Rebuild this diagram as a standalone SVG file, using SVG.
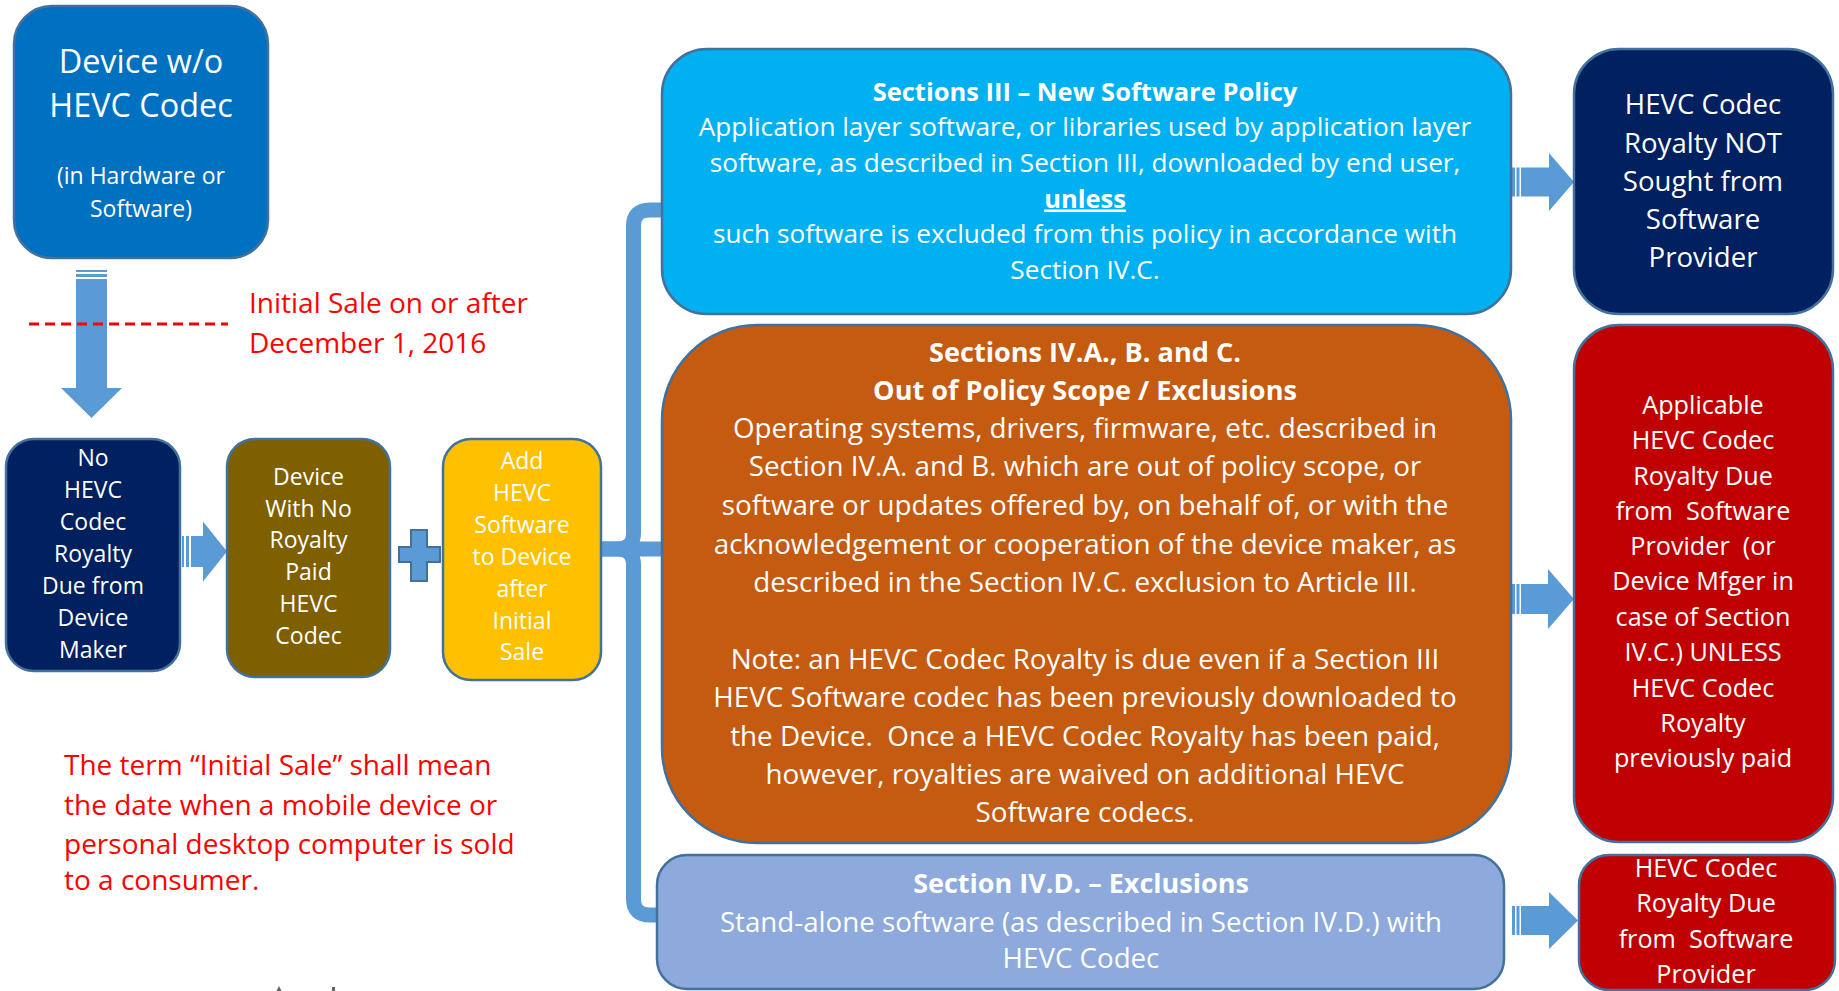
<svg xmlns="http://www.w3.org/2000/svg" width="1839" height="991" viewBox="0 0 1839 991">
<style>
  .box{stroke:#41719C;stroke-width:2.5}
  .arr{fill:#5B9BD5;stroke:none}
  .w{fill:#FFFFFF;font-family:"Open Sans","Liberation Sans",sans-serif;text-anchor:middle}
  .b{font-weight:bold}
  .pre{white-space:pre}
  .red{fill:#FF0000;font-family:"Open Sans","Liberation Sans",sans-serif;font-size:28px}
  .br{fill:none;stroke:#5B9BD5;stroke-width:15;stroke-linejoin:round}
</style>
<rect width="1839" height="991" fill="#FFFFFF"/>

<g id="connectors">
  <!-- down arrow -->
  <rect class="arr" x="76" y="270" width="31" height="2"/>
  <rect class="arr" x="76" y="274" width="31" height="3"/>
  <path class="arr" d="M76 279 H107 V388 H122 L91.5 418 L61 388 H76 Z"/>
  <!-- arrow A -> B -->
  <rect class="arr" x="182" y="536" width="2" height="31"/>
  <rect class="arr" x="186" y="536" width="3" height="31"/>
  <path class="arr" d="M191 536 H203 V521.5 L227 551.5 L203 581.5 V567 H191 Z"/>
  <!-- plus -->
  <path d="M411 530 H427 V547 H440 V562 H427 V581 H411 V562 H399 V547 H411 Z" fill="#5B9BD5" stroke="#41719C" stroke-width="2"/>
  <!-- brace -->
  <path class="br" d="M662 210 H650 Q633.5 210 633.5 226 V533 Q633.5 549 617 549 H601"/>
  <path class="br" d="M601 549 H617 Q633.5 549 633.5 565 V899 Q633.5 915 650 915 H658"/>
  <path class="br" d="M628 549 H662"/>
  <!-- arrow blue -> navy -->
  <rect class="arr" x="1512" y="167.5" width="3" height="29"/>
  <rect class="arr" x="1516.5" y="167.5" width="3" height="29"/>
  <path class="arr" d="M1521 167.5 H1549 V153 L1574 182 L1549 211 V196.5 H1521 Z"/>
  <!-- arrow orange -> red -->
  <rect class="arr" x="1512" y="584" width="3" height="30"/>
  <rect class="arr" x="1516.5" y="584" width="3" height="30"/>
  <path class="arr" d="M1521 584 H1548 V569 L1574 599 L1548 629 V614 H1521 Z"/>
  <!-- arrow lavender -> red -->
  <rect class="arr" x="1512" y="906" width="3" height="29"/>
  <rect class="arr" x="1516.5" y="906" width="3" height="29"/>
  <path class="arr" d="M1521 906 H1549 V892 L1578 920.5 L1549 949 V935 H1521 Z"/>
</g>

<g id="device-wo-hevc">
  <rect class="box" x="14" y="6" width="254" height="252" rx="38" fill="#0070C0"/>
  <text class="w" x="141" y="73" font-size="32.4">Device w/o</text>
  <text class="w" x="141" y="117" font-size="32.4">HEVC Codec</text>
  <text class="w" x="141" y="184" font-size="23">(in Hardware or</text>
  <text class="w" x="141" y="217" font-size="23">Software)</text>
</g>

<g id="initial-sale-note">
  <line x1="29" y1="324" x2="228" y2="324" stroke="#FF0000" stroke-width="3" stroke-dasharray="10 6"/>
  <text class="red" x="249" y="313">Initial Sale on or after</text>
  <text class="red" x="249" y="353">December 1, 2016</text>
</g>

<g id="no-royalty-device-maker">
  <rect class="box" x="6" y="439" width="174" height="232" rx="28" fill="#002060"/>
  <g class="w" font-size="23">
    <text x="93" y="465.5">No</text>
    <text x="93" y="497.5">HEVC</text>
    <text x="93" y="529.5">Codec</text>
    <text x="93" y="561.5">Royalty</text>
    <text x="93" y="593.5">Due from</text>
    <text x="93" y="625.5">Device</text>
    <text x="93" y="657.5">Maker</text>
  </g>
</g>

<g id="device-no-royalty-paid">
  <rect class="box" x="227" y="439" width="163" height="238" rx="28" fill="#7F6000"/>
  <g class="w" font-size="23">
    <text x="308.5" y="485">Device</text>
    <text x="308.5" y="516.7">With No</text>
    <text x="308.5" y="548.4">Royalty</text>
    <text x="308.5" y="580">Paid</text>
    <text x="308.5" y="611.8">HEVC</text>
    <text x="308.5" y="643.5">Codec</text>
  </g>
</g>

<g id="add-hevc-software">
  <rect class="box" x="443" y="439" width="158" height="241" rx="28" fill="#FFC000"/>
  <g class="w" font-size="23">
    <text x="522" y="469">Add</text>
    <text x="522" y="501">HEVC</text>
    <text x="522" y="533">Software</text>
    <text x="522" y="565">to Device</text>
    <text x="522" y="597">after</text>
    <text x="522" y="629">Initial</text>
    <text x="522" y="660">Sale</text>
  </g>
</g>

<g id="initial-sale-definition">
  <text class="red" x="64" y="775">The term “Initial Sale” shall mean</text>
  <text class="red" x="64" y="815">the date when a mobile device or</text>
  <text class="red" x="64" y="853.5">personal desktop computer is sold</text>
  <text class="red" x="64" y="890">to a consumer.</text>
</g>

<g id="section-iii">
  <rect class="box" x="662" y="49" width="849" height="265" rx="45" fill="#00B0F0"/>
  <g class="w" font-size="26.2">
    <text class="b" x="1085" y="101" font-size="25.5">Sections III – New Software Policy</text>
    <text x="1085" y="136">Application layer software, or libraries used by application layer</text>
    <text x="1085" y="172">software, as described in Section III, downloaded by end user,</text>
    <text class="b" x="1085" y="207.5" font-size="25.5" text-decoration="underline">unless</text>
    <text x="1085" y="243">such software is excluded from this policy in accordance with</text>
    <text x="1085" y="279">Section IV.C.</text>
  </g>
</g>

<g id="section-iv-abc">
  <rect class="box" x="662" y="325" width="849" height="518" rx="95" fill="#C55A11"/>
  <g class="w" font-size="27.8">
    <text class="b" x="1085" y="362" font-size="27.1">Sections IV.A., B. and C.</text>
    <text class="b" x="1085" y="400" font-size="27.1">Out of Policy Scope / Exclusions</text>
    <text x="1085" y="437.5">Operating systems, drivers, firmware, etc. described in</text>
    <text x="1085" y="476">Section IV.A. and B. which are out of policy scope, or</text>
    <text x="1085" y="514.5">software or updates offered by, on behalf of, or with the</text>
    <text x="1085" y="553.5">acknowledgement or cooperation of the device maker, as</text>
    <text x="1085" y="591.5">described in the Section IV.C. exclusion to Article III.</text>
    <text x="1085" y="668.5">Note: an HEVC Codec Royalty is due even if a Section III</text>
    <text x="1085" y="707">HEVC Software codec has been previously downloaded to</text>
    <text class="pre" x="1085" y="745.5">the Device.  Once a HEVC Codec Royalty has been paid,</text>
    <text x="1085" y="784">however, royalties are waived on additional HEVC</text>
    <text x="1085" y="821.5">Software codecs.</text>
  </g>
</g>

<g id="section-iv-d">
  <rect class="box" x="657" y="855" width="847" height="134" rx="30" fill="#8EA9DB"/>
  <g class="w" font-size="27.7">
    <text class="b" x="1081" y="893" font-size="27">Section IV.D. – Exclusions</text>
    <text x="1081" y="932">Stand-alone software (as described in Section IV.D.) with</text>
    <text x="1081" y="968">HEVC Codec</text>
  </g>
</g>

<g id="royalty-not-sought">
  <rect class="box" x="1574" y="49" width="259" height="265" rx="45" fill="#002060"/>
  <g class="w" font-size="27.6">
    <text x="1703" y="113.5">HEVC Codec</text>
    <text x="1703" y="152.5">Royalty NOT</text>
    <text x="1703" y="190.5">Sought from</text>
    <text x="1703" y="228.5">Software</text>
    <text x="1703" y="267">Provider</text>
  </g>
</g>

<g id="royalty-due-unless-paid">
  <rect class="box" x="1574" y="325" width="259" height="517" rx="45" fill="#C00000"/>
  <g class="w" font-size="25.2">
    <text x="1703" y="413.5">Applicable</text>
    <text x="1703" y="449">HEVC Codec</text>
    <text x="1703" y="484.5">Royalty Due</text>
    <text class="pre" x="1703" y="520">from  Software</text>
    <text class="pre" x="1703" y="555">Provider  (or</text>
    <text x="1703" y="590">Device Mfger in</text>
    <text x="1703" y="625.5">case of Section</text>
    <text x="1703" y="661">IV.C.) UNLESS</text>
    <text x="1703" y="696.5">HEVC Codec</text>
    <text x="1703" y="731.5">Royalty</text>
    <text x="1703" y="766.5">previously paid</text>
  </g>
</g>

<g id="royalty-due-software-provider">
  <rect class="box" x="1579" y="855" width="256" height="135" rx="30" fill="#C00000"/>
  <g class="w" font-size="25.2">
    <text x="1706" y="877">HEVC Codec</text>
    <text x="1706" y="912">Royalty Due</text>
    <text class="pre" x="1706" y="948">from  Software</text>
    <text x="1706" y="983">Provider</text>
  </g>
</g>

<g id="cropped-marks">
  <path d="M276.5 991 L279 986 L281.5 991 Z" fill="#5A6470"/>
  <rect x="332" y="987" width="3" height="4" fill="#5A6470"/>
</g>
</svg>
